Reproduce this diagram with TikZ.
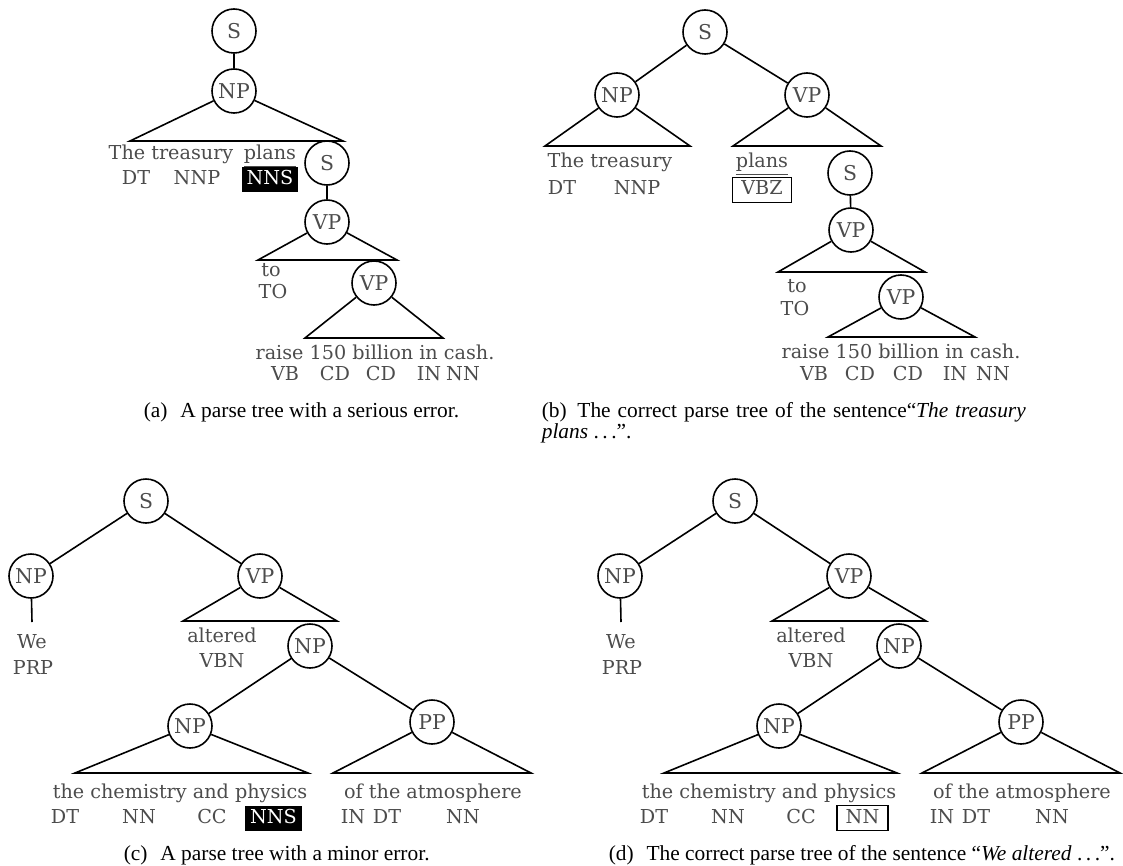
\documentclass[tikz,border=0pt]{standalone}
\usepackage{fontspec}
\setmainfont{Liberation Serif}
\newfontfamily\treefont{DejaVu Serif}
\usetikzlibrary{positioning}

\begin{document}
\begin{tikzpicture}[
    x = 0.5pt, y = -0.5pt,
    line width = 0.8pt,
    cat/.style = {
        circle, draw=black, line width=0.8pt,
        minimum size = 22pt, inner sep = 0pt,
        font = \treefont\fontsize{10.2}{12}\selectfont, text = black!70
    },
    word/.style = {
        inner sep = 0pt, text height = 7pt, text depth = 2pt,
        font = \treefont\fontsize{9.6}{11}\selectfont, text = black!70
    },
    badtag/.style  = { word, fill=black, text=white, inner xsep=2.5pt, inner ysep=1.75pt },
    goodtag/.style = { word, draw=black, line width=0.7pt, inner xsep=2.5pt, inner ysep=1.75pt },
    caption/.style = { anchor=west, inner sep=0pt, font=\fontsize{10.7}{12.5}\selectfont },
]

\useasboundingbox (0,0) rectangle (1123,866);

%% ── (a) wrong tree ──────────────────────────────────────────────────────
\node[cat] (aS)   at (234,31)  {S};
\node[cat] (aNP)  at (234,91)  {NP};
\coordinate (aNPl) at (130,141);
\coordinate (aNPr) at (343,141);
\node[word] (aw1) at (171,155) {The treasury};
\node[word] (aw2) at (270,155) {\underline{plans}};
\node[word] (at1) at (136,180) {DT};
\node[word] (at2) at (197,180) {NNP};
\node[badtag] (at3) at (270,180) {NNS};

\node[cat] (aS2)  at (327,163) {S};
\node[cat] (aVP)  at (327,222) {VP};
\coordinate (aVPl) at (258,260);
\coordinate (aVPr) at (397,260);
\node[word] (aw3) at (271,272) {to};
\node[word] (at4) at (273,293) {TO};

\node[cat] (aVP2) at (374,283) {VP};
\coordinate (aVP2l) at (305,338);
\coordinate (aVP2r) at (443,338);
\node[word] (aw4) at (375,354) {raise 150 billion in cash.};
\foreach \tx/\tg [count=\i] in {285/VB, 335/CD, 381/CD, 429/IN, 463/NN}
    \node[word] (at5\i) at (\tx,375) {\tg};

\draw (aS) -- (aNP);
\draw (aNP) -- (aNPl) -- (aNPr) -- (aNP);
\draw (aS2) -- (aVP);
\draw (aVP) -- (aVPl) -- (aVPr) -- (aVP);
\draw (aVP2) -- (aVP2l) -- (aVP2r) -- (aVP2);

%% ── (b) correct tree ────────────────────────────────────────────────────
\node[cat] (bS)  at (705,32) {S};
\node[cat] (bNP) at (617,95) {NP};
\node[cat] (bVP) at (807,95) {VP};
\coordinate (bNPl) at (545,146);
\coordinate (bNPr) at (690,146);
\coordinate (bVPl) at (733,146);
\coordinate (bVPr) at (881,146);
\node[word] (bw1) at (610,163) {The treasury};
\node[word] (bw2) at (762,163) {\underline{plans}};
\node[word] (bt1) at (562,190) {DT};
\node[word] (bt2) at (637,190) {NNP};
\node[goodtag, minimum width=29.5pt] (bt3) at (762,190) {VBZ};

\node[cat] (bS2)  at (850,173) {S};
\node[cat] (bVP2) at (851,230) {VP};
\coordinate (bVP2l) at (778,272);
\coordinate (bVP2r) at (925,272);
\node[word] (bw3) at (797,287) {to};
\node[word] (bt4) at (795,310) {TO};

\node[cat] (bVP3) at (901,297) {VP};
\coordinate (bVP3l) at (828,337);
\coordinate (bVP3r) at (975,337);
\node[word] (bw4) at (901,353) {raise 150 billion in cash.};
\foreach \tx/\tg [count=\i] in {814/VB, 860/CD, 908/CD, 955/IN, 993/NN}
    \node[word] (bt5\i) at (\tx,375) {\tg};

\draw (bS) -- (bNP);
\draw (bS) -- (bVP);
\draw (bNP) -- (bNPl) -- (bNPr) -- (bNP);
\draw (bVP) -- (bVPl) -- (bVPr) -- (bVP);
\draw (bS2) -- (bVP2);
\draw (bVP2) -- (bVP2l) -- (bVP2r) -- (bVP2);
\draw (bVP3) -- (bVP3l) -- (bVP3r) -- (bVP3);

%% ── (c) and (d): same tree, only the last tag differs ───────────────────
\foreach \p/\dx/\tg/\tagstyle in {c/0/NNS/badtag, d/589/NN/goodtag} {
\begin{scope}[shift={(\dx,0)}]
    \node[cat] (\p S)   at (146,501) {S};
    \node[cat] (\p NP)  at (31,576)  {NP};
    \node[cat] (\p VP)  at (260,576) {VP};
    \coordinate (\p We) at (32,622);
    \node[word] (\p w1) at (32,643) {We};
    \node[word] (\p t1) at (33,669) {PRP};

    \coordinate (\p VPl) at (183,621);
    \coordinate (\p VPr) at (337,621);
    \node[word] (\p w2) at (222,637) {altered};
    \node[word] (\p t2) at (222,662) {VBN};

    \node[cat] (\p NP2) at (310,646) {NP};
    \node[cat] (\p NP3) at (190,726) {NP};
    \node[cat] (\p PP)  at (432,722) {PP};
    \coordinate (\p NP3l) at (75,773);
    \coordinate (\p NP3r) at (308,773);
    \coordinate (\p PPl)  at (333,773);
    \coordinate (\p PPr)  at (531,773);

    \node[word] (\p w3) at (180,793) {the chemistry and physics};
    \node[word] (\p w4) at (433,793) {of the atmosphere};
    \node[word] (\p t3) at (65,818)  {DT};
    \node[word] (\p t4) at (139,818) {NN};
    \node[word] (\p t5) at (212,818) {CC};
    \node[\tagstyle, minimum width=25.5pt] (\p t6) at (273.5,818) {\tg};
    \node[word] (\p t7) at (353,818) {IN};
    \node[word] (\p t8) at (387,818) {DT};
    \node[word] (\p t9) at (463,818) {NN};

    \draw (\p S) -- (\p NP);
    \draw (\p S) -- (\p VP);
    \draw (\p NP) -- (\p We);
    \draw (\p VP) -- (\p VPl) -- (\p VPr) -- (\p VP);
    \draw (\p NP2) -- (\p NP3);
    \draw (\p NP2) -- (\p PP);
    \draw (\p NP3) -- (\p NP3l) -- (\p NP3r) -- (\p NP3);
    \draw (\p PP) -- (\p PPl) -- (\p PPr) -- (\p PP);
\end{scope}
}

%% ── Captions ────────────────────────────────────────────────────────────
\node[caption] (capa) at (143,412)
    {(a)\hspace{0.6em}A parse tree with a serious error.};
\node[caption] (capb) at (541,412)
    {\makebox[242pt][s]{(b)\hspace{0.5em}The correct parse tree of the sentence“\textit{The treasury}}};
\node[caption] (capb2) at (541,433)
    {\textit{plans} .\,.\,.”.};
\node[caption] (capc) at (123,855)
    {(c)\hspace{0.6em}A parse tree with a minor error.};
\node[caption] (capd) at (608,855)
    {(d)\hspace{0.6em}The correct parse tree of the sentence “\textit{We altered} .\,.\,.”.};

\end{tikzpicture}
\end{document}
